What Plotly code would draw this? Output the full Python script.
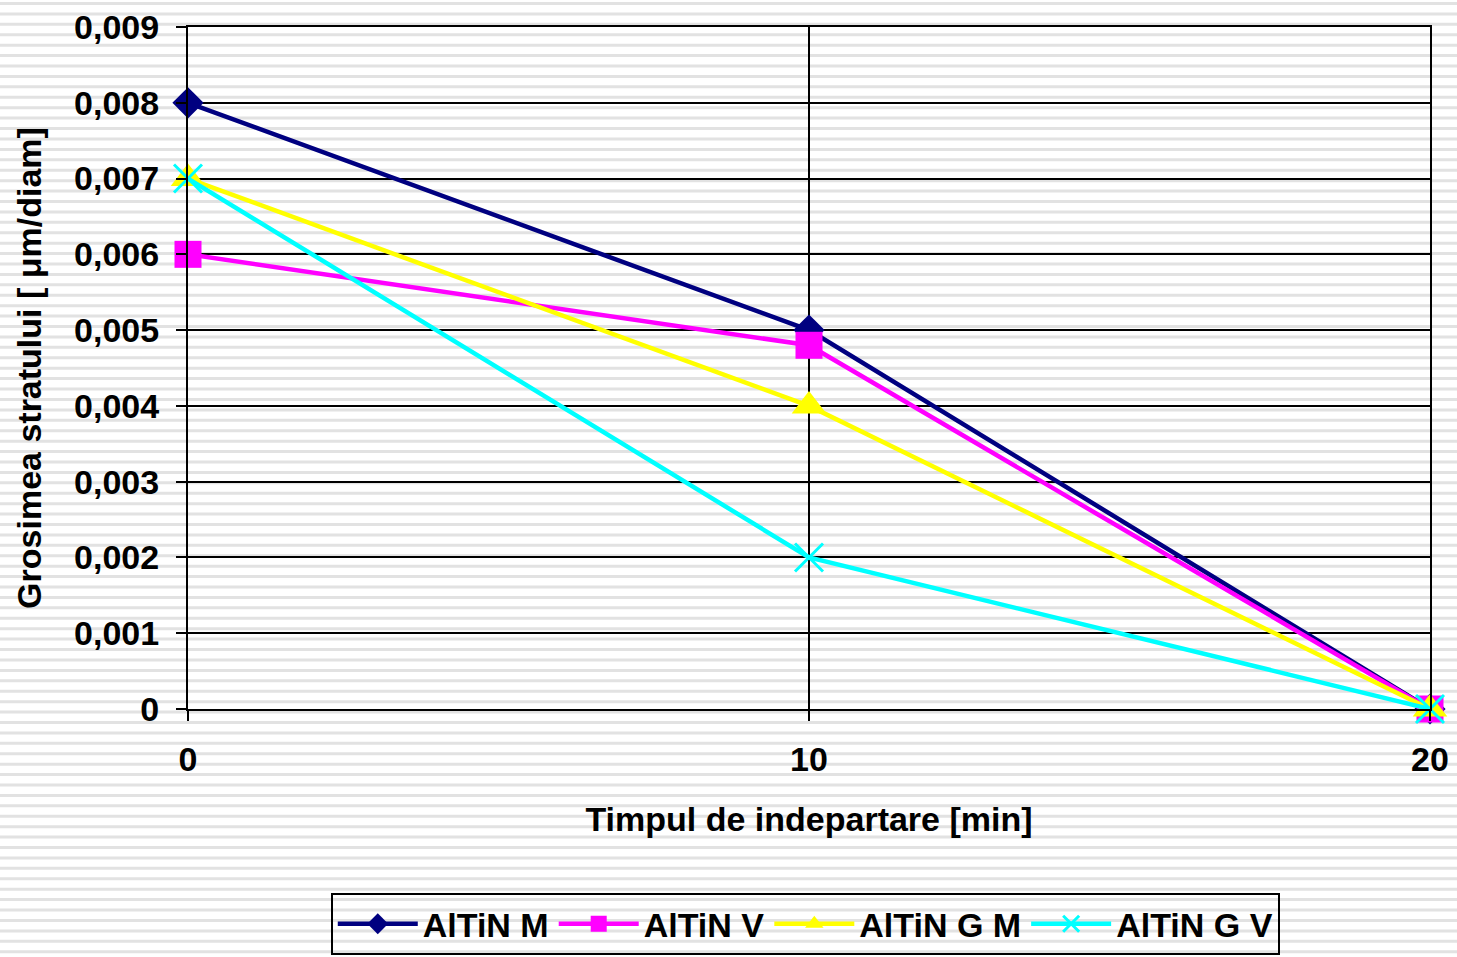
import plotly.graph_objects as go

# ---- data ----
time_min = [0, 10, 20]
altin_m = [0.008, 0.005, 0.0]
altin_v = [0.006, 0.0048, 0.0]
altin_g_m = [0.007, 0.004, 0.0]
altin_g_v = [0.007, 0.002, 0.0]

series_names = ["AlTiN M", "AlTiN V", "AlTiN G M", "AlTiN G V"]
y_tickvals = [0, 0.001, 0.002, 0.003, 0.004, 0.005, 0.006, 0.007, 0.008, 0.009]
y_ticktext = ["0", "0,001", "0,002", "0,003", "0,004", "0,005", "0,006", "0,007", "0,008", "0,009"]
x_tickvals = [0, 10, 20]
x_ticktext = ["0", "10", "20"]

W, H = 1457, 957
L, R, T, B = 188, 27, 27, 248
PW, PH = W - L - R, H - T - B
FONT = "Liberation Sans, Arial, sans-serif"
FS = 34
TF = dict(family=FONT, size=FS, color="black", weight="bold")

fig = go.Figure()

styles = [
    dict(color="#000080", symbol="diamond", size=24, lw=0, lc="#000080"),
    dict(color="#FF00FF", symbol="square", size=27, lw=0, lc="#FF00FF"),
    dict(color="#FFFF00", symbol="triangle-up", size=30, lw=0, lc="#FFFF00"),
    dict(color="#00FFFF", symbol="x-thin", size=28, lw=3, lc="#00FFFF"),
]
for name, ys, st in zip(series_names, [altin_m, altin_v, altin_g_m, altin_g_v], styles):
    fig.add_trace(go.Scatter(
        x=time_min, y=ys, name=name, mode="lines+markers",
        line=dict(color=st["color"], width=4.5),
        marker=dict(symbol=st["symbol"], size=st["size"], color=st["color"],
                    line=dict(width=st["lw"], color=st["lc"])),
        cliponaxis=False,
    ))

# striped background (decoration)
shapes = []
period = 10.42
py = 2.0
while py < H:
    y0 = (H - B - py) / PH
    y1 = (H - B - (py + 3)) / PH
    shapes.append(dict(type="rect", xref="paper", yref="paper",
                       x0=-L / PW, x1=(W - L) / PW, y0=y1, y1=y0,
                       fillcolor="#e2e2e2", line=dict(width=0), layer="below"))
    py += period

fig.update_layout(
    width=W, height=H,
    margin=dict(l=L, r=R, t=T, b=B, autoexpand=False),
    paper_bgcolor="white", plot_bgcolor="rgba(0,0,0,0)",
    font=TF,
    shapes=shapes,
    showlegend=True,
    legend=dict(orientation="h", x=0.497, xanchor="center", y=-0.27, yanchor="top",
                bgcolor="rgba(0,0,0,0)", bordercolor="black", borderwidth=2,
                font=TF, itemwidth=80, tracegroupgap=0),
    xaxis=dict(range=[0, 20], tickvals=x_tickvals, ticktext=x_ticktext,
               tickfont=TF,
               showgrid=True, gridcolor="black", gridwidth=2,
               showline=True, linecolor="black", linewidth=2, mirror=True,
               ticks="outside", ticklen=10, tickwidth=2, tickcolor="black",
               zeroline=False, ticklabelstandoff=9,
               title=dict(text="Timpul de indepartare [min]", standoff=30, font=TF)),
    yaxis=dict(range=[0, 0.009], tickvals=y_tickvals, ticktext=y_ticktext,
               tickfont=TF,
               showgrid=True, gridcolor="black", gridwidth=2,
               showline=True, linecolor="black", linewidth=2, mirror=True,
               ticks="outside", ticklen=10, tickwidth=2, tickcolor="black",
               zeroline=False, ticklabelstandoff=10,
               title=dict(text="Grosimea stratului [ μm/diam]", standoff=22, font=TF)),
)

fig.write_html("out.html")
